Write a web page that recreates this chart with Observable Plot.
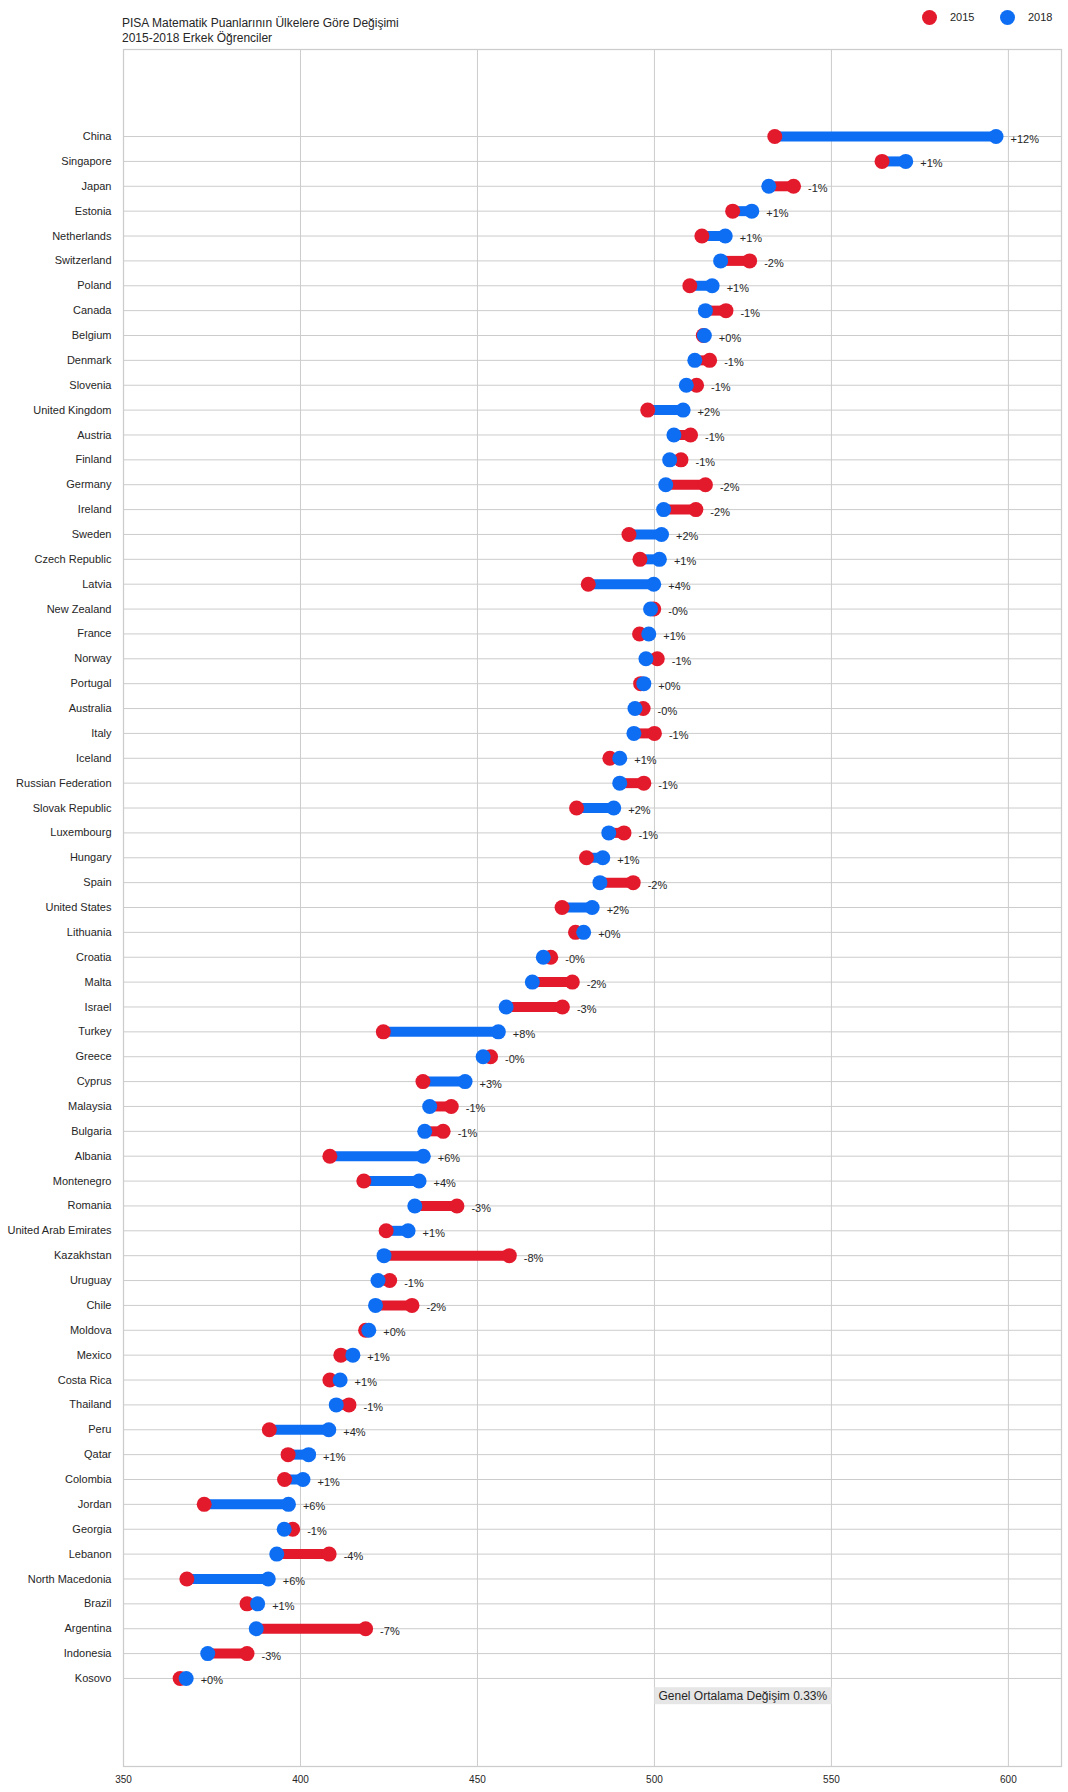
<!DOCTYPE html>
<html>
<head>
<meta charset="utf-8">
<script src="https://cdn.jsdelivr.net/npm/d3@7"></script>
<script src="https://cdn.jsdelivr.net/npm/@observablehq/plot@0.6"></script>
<style>
  body { margin: 0; background: #ffffff; }
  #wrap { position: relative; width: 1068px; height: 1792px; font-family: "Liberation Sans", Arial, sans-serif; color: #262626; }
  #chart { position: absolute; left: 0; top: 0; }
  #title { position: absolute; left: 122px; top: 16px; font-size: 12px; line-height: 15px; white-space: nowrap; }
  .lg-dot { position: absolute; width: 15px; height: 15px; border-radius: 50%; }
  .lg-txt { position: absolute; font-size: 11px; line-height: 12px; }
</style>
</head>
<body>
<div id="wrap">
  <div id="chart"></div>
  <div id="title"></div>
  <div id="legend"></div>
</div>
<script>
const titleLines = ["PISA Matematik Puanlarının Ülkelere Göre Değişimi", "2015-2018 Erkek Öğrenciler"];

const countries = ["China","Singapore","Japan","Estonia","Netherlands","Switzerland","Poland","Canada","Belgium","Denmark",
  "Slovenia","United Kingdom","Austria","Finland","Germany","Ireland","Sweden","Czech Republic","Latvia","New Zealand",
  "France","Norway","Portugal","Australia","Italy","Iceland","Russian Federation","Slovak Republic","Luxembourg","Hungary",
  "Spain","United States","Lithuania","Croatia","Malta","Israel","Turkey","Greece","Cyprus","Malaysia",
  "Bulgaria","Albania","Montenegro","Romania","United Arab Emirates","Kazakhstan","Uruguay","Chile","Moldova","Mexico",
  "Costa Rica","Thailand","Peru","Qatar","Colombia","Jordan","Georgia","Lebanon","North Macedonia","Brazil",
  "Argentina","Indonesia","Kosovo"];

const score2015 = [534.0,564.3,539.3,522.1,513.4,526.9,510.0,520.2,513.8,515.6,
  511.9,498.1,510.2,507.5,514.4,511.7,492.8,495.9,481.3,499.8,
  495.8,500.8,496.1,496.8,500.0,487.4,497.0,478.0,491.4,480.8,
  494.0,473.9,477.7,470.7,476.8,474.0,423.4,453.7,434.6,442.6,
  440.3,408.3,417.9,444.2,424.2,459.0,425.2,431.5,418.4,411.4,
  408.3,413.7,391.2,396.5,395.5,372.8,397.8,408.1,367.9,384.9,
  418.4,384.9,366.0];

const score2018 = [596.5,571.0,532.3,527.5,520.0,518.7,516.3,514.4,514.1,511.4,
  509.0,508.1,505.5,504.3,503.2,502.6,502.0,501.4,499.8,498.9,
  498.4,497.6,497.0,494.5,494.2,490.2,490.2,488.5,487.1,485.4,
  484.6,482.4,480.0,468.6,465.5,458.1,455.9,451.6,446.5,436.5,
  435.1,434.7,433.5,432.3,430.4,423.6,421.9,421.2,419.3,414.8,
  411.2,410.1,408.0,402.3,400.7,396.6,395.4,393.3,390.9,387.9,
  387.5,373.8,367.7];

const xTicks = [350, 400, 450, 500, 550, 600];
const seriesNames = ["2015", "2018"];
const seriesColors = ["#e3192c", "#0d6ef4"];
const annotationText = "Genel Ortalama Değişim 0.33%";
const annotationX = 500;
const annotationRow = 62.7;

const textColor = "#262626";
const gridColor = "#cccccc";

const rows = countries.map((c, i) => {
  const a = score2015[i], b = score2018[i];
  const pct = (b - a) / a * 100;
  const sign = pct < 0 ? "-" : "+";
  return {i, country: c, a, b, label: sign + Math.round(Math.abs(pct)) + "%"};
});

// title
document.getElementById("title").innerHTML = titleLines.map(t => `<div>${t}</div>`).join("");

// legend
const legend = document.getElementById("legend");
const legendPos = [922, 1000];
seriesNames.forEach((name, k) => {
  const dot = document.createElement("div");
  dot.className = "lg-dot";
  dot.style.left = legendPos[k] + "px";
  dot.style.top = "9.5px";
  dot.style.background = seriesColors[k];
  const txt = document.createElement("div");
  txt.className = "lg-txt";
  txt.style.left = (legendPos[k] + 28) + "px";
  txt.style.top = "11px";
  txt.textContent = name;
  legend.appendChild(dot);
  legend.appendChild(txt);
});

const up = rows.filter(d => d.b >= d.a);
const down = rows.filter(d => d.b < d.a);
const rowIdx = d3.range(countries.length);

const chart = Plot.plot({
  width: 1068,
  height: 1792,
  marginTop: 49,
  marginBottom: 26,
  marginLeft: 123,
  marginRight: 7,
  style: {fontFamily: '"Liberation Sans", Arial, sans-serif', color: textColor, background: "#ffffff"},
  x: {domain: [350, 615]},
  y: {domain: [65.54, -3.5]},
  marks: [
    Plot.gridX(xTicks, {stroke: gridColor, strokeOpacity: 1, strokeWidth: 1}),
    Plot.gridY(rowIdx, {stroke: gridColor, strokeOpacity: 1, strokeWidth: 1}),
    Plot.frame({stroke: gridColor, strokeWidth: 1.25}),
    Plot.axisX(xTicks, {tickSize: 0, tickPadding: 9, fontSize: 10, fill: textColor, label: null}),
    Plot.axisY(rowIdx, {tickSize: 0, tickPadding: 12, fontSize: 11, fill: textColor, tickFormat: i => countries[i], label: null}),
    Plot.ruleY(up, {y: "i", x1: "a", x2: "b", stroke: seriesColors[1], strokeWidth: 10}),
    Plot.ruleY(down, {y: "i", x1: "a", x2: "b", stroke: seriesColors[0], strokeWidth: 10}),
    Plot.dot(rows, {x: "a", y: "i", r: 7.5, fill: seriesColors[0]}),
    Plot.dot(rows, {x: "b", y: "i", r: 7.5, fill: seriesColors[1]}),
    Plot.text(rows, {x: d => Math.max(d.a, d.b), y: "i", text: "label", dx: 14.5, dy: 2.5, textAnchor: "start", fontSize: 11, fill: textColor}),
    Plot.text([annotationText], {x: annotationX, y: annotationRow, text: d => d, dx: 4, textAnchor: "start", fontSize: 12, fill: textColor})
  ]
});
document.getElementById("chart").appendChild(chart);

// grey background box behind the annotation
const annText = Array.from(chart.querySelectorAll("text")).find(t => t.textContent === annotationText);
if (annText) {
  const bb = annText.getBBox();
  const ns = "http://www.w3.org/2000/svg";
  const rect = document.createElementNS(ns, "rect");
  rect.setAttribute("x", bb.x - 4);
  rect.setAttribute("y", bb.y - 1.5);
  rect.setAttribute("width", bb.width + 8);
  rect.setAttribute("height", bb.height + 3);
  rect.setAttribute("fill", "#e6e6e6");
  const tr = annText.getAttribute("transform");
  if (tr) rect.setAttribute("transform", tr);
  annText.parentNode.insertBefore(rect, annText);
}
</script>
</body>
</html>
